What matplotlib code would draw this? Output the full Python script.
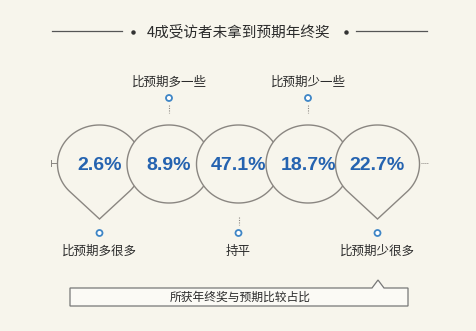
import numpy as np
import matplotlib
matplotlib.use("Agg")
import matplotlib.pyplot as plt
from matplotlib.path import Path
from matplotlib.patches import PathPatch, Circle, Polygon

plt.rcParams['font.family'] = ['Noto Sans CJK SC', 'DejaVu Sans']

title = "4成受访者未拿到预期年终奖"
values = [2.6, 8.9, 47.1, 18.7, 22.7]
labels = ["比预期多很多", "比预期多一些", "持平", "比预期少一些", "比预期少很多"]
footer = "所获年终奖与预期比较占比"

BG = "#f7f5ec"
EDGE = "#8a8681"
BLUE = "#2563b0"
TXT = "#2b2b2b"

W, H = 476, 331
fig = plt.figure(figsize=(W / 100, H / 100), dpi=100, facecolor=BG)
ax = fig.add_axes([0, 0, 1, 1])
ax.set_xlim(0, W)
ax.set_ylim(H, 0)
ax.axis("off")
ax.set_facecolor(BG)

# layout
x0, step, cy = 99.5, 69.5, 164
rx, ry = 42, 39
tip_dist = 55 / ry  # in unit-circle space
label_pos = ["below", "above", "below", "above", "below"]
teardrop = [True, False, False, False, True]


def shape_path(cx, tear):
    if not tear:
        t = np.linspace(0, 2 * np.pi, 200)
        pts = np.column_stack([cx + rx * np.cos(t), cy + ry * np.sin(t)])
        return pts
    # tip downward in screen (positive y)
    d = tip_dist
    th = np.arccos(1 / d)
    base = np.pi / 2  # direction of tip (down in inverted axis)
    t = np.linspace(base + th, base - th + 2 * np.pi, 200)
    pts = np.column_stack([np.cos(t), np.sin(t)])
    pts = np.vstack([pts, [[0, d]]])
    pts[:, 0] = cx + rx * pts[:, 0]
    pts[:, 1] = cy + ry * pts[:, 1]
    return pts


for i, (v, lab) in enumerate(zip(values, labels)):
    cx = x0 + i * step
    pts = shape_path(cx, teardrop[i])
    poly = Polygon(pts, closed=True, facecolor=BG, edgecolor=EDGE, lw=1.0,
                   zorder=2 + i)
    ax.add_patch(poly)
    ax.text(cx, cy + 1, f"{v}%", ha="center", va="center", color=BLUE,
            fontsize=14, fontweight="bold", family="Liberation Sans",
            zorder=10)
    if label_pos[i] == "above":
        my = 98
        ax.plot([cx, cx], [105, 113], color=EDGE, lw=0.8, ls=(0, (1, 1.2)),
                zorder=10)
        ax.add_patch(Circle((cx, my), 3, facecolor="white", edgecolor="#3f86c6",
                            lw=1.3, zorder=11))
        ax.text(cx, 82, lab, ha="center", va="center", color=TXT, fontsize=9,
                zorder=11)
    else:
        my = 233
        if not teardrop[i]:
            ax.plot([cx, cx], [217, 225], color=EDGE, lw=0.8, ls=(0, (1, 1.2)),
                    zorder=10)
        ax.add_patch(Circle((cx, my), 3, facecolor="white", edgecolor="#3f86c6",
                            lw=1.3, zorder=11))
        ax.text(cx, 251, lab, ha="center", va="center", color=TXT, fontsize=9,
                zorder=11)

# small side ticks
ax.plot([51, 58], [163, 163], color=EDGE, lw=0.7, zorder=1)
ax.plot([51, 51], [160, 166], color=EDGE, lw=0.7, zorder=1)
ax.plot([421, 428], [163, 163], color=EDGE, lw=0.7, ls=(0, (1, 1)), zorder=1)

# title
ax.text(239, 32, title, ha="center", va="center", color=TXT, fontsize=10.5)
ax.plot([52, 122], [31, 31], color="#555555", lw=0.9)
ax.plot([356, 427], [31, 31], color="#555555", lw=0.9)
ax.plot([133, 346], [31.5, 31.5], ls="none", marker="o", ms=2.2, color="#333333")

# footer box with notch
box = [(70, 288), (372, 288), (378, 280), (384, 288), (408, 288),
       (408, 306), (70, 306)]
ax.add_patch(Polygon(box, closed=True, facecolor="#fbfaf5", edgecolor="#777777",
                     lw=0.9, zorder=2))
ax.text(240, 297.5, footer, ha="center", va="center", color=TXT, fontsize=8.5,
        zorder=3)

fig.savefig("out.png", dpi=100, facecolor=BG)
